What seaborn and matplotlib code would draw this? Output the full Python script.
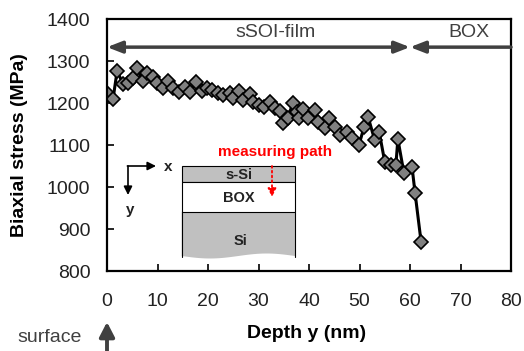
import numpy as np
import pandas as pd
import matplotlib
matplotlib.use("Agg")
import matplotlib.pyplot as plt
import seaborn as sns
from matplotlib.patches import Rectangle, Polygon

depth = [0, 1.2, 2, 3.2, 4.2, 5.1, 5.9, 7.1, 7.9, 9.1, 9.9, 11.1, 12.1, 13.1, 14.3,
         15.4, 16.4, 17.6, 18.8, 19.8, 20.8, 22, 23, 24.4, 25, 26.1, 27, 28.3, 29,
         30.1, 31.1, 32.3, 33.3, 34.3, 34.9, 35.8, 36.8, 37.6, 38, 38.8, 39.8, 41.2,
         41.8, 43.2, 44, 45.1, 46.1, 47.5, 48.5, 49.9, 50.9, 51.7, 53, 53.9, 55,
         56.3, 57.2, 57.6, 58.8, 60.4, 61, 62.2]
stress = [1224, 1210, 1276, 1245, 1248, 1260, 1283, 1252, 1271, 1262, 1248, 1236, 1252,
          1236, 1226, 1238, 1226, 1250, 1228, 1236, 1231, 1224, 1219, 1224, 1212, 1229,
          1207, 1221, 1202, 1195, 1190, 1202, 1188, 1181, 1152, 1164, 1200, 1179, 1164,
          1186, 1164, 1183, 1155, 1140, 1164, 1143, 1124, 1131, 1117, 1100, 1143, 1167,
          1112, 1131, 1060, 1052, 1052, 1114, 1033, 1048, 986, 869]

xticks = [0, 10, 20, 30, 40, 50, 60, 70, 80]
yticks = [800, 900, 1000, 1100, 1200, 1300, 1400]

df = pd.DataFrame({"depth": depth, "stress": stress})

sns.set_style("ticks")
plt.rcParams["font.family"] = ["Liberation Sans", "DejaVu Sans"]
plt.rcParams["text.color"] = "#222222"

W, H = 524, 351
fig = plt.figure(figsize=(W / 100, H / 100), dpi=100)
L, R, T, B = 107, 511, 19, 271
ax = fig.add_axes([L / W, 1 - B / H, (R - L) / W, (B - T) / H])

sns.lineplot(data=df, x="depth", y="stress", ax=ax, color="black", lw=2.2,
             marker="D", markersize=7.5, markerfacecolor="#808080",
             markeredgecolor="black", markeredgewidth=1.2, sort=False)

ax.set_xlim(0, 80)
ax.set_ylim(800, 1400)
ax.set_xticks(xticks)
ax.set_yticks(yticks)
ax.tick_params(axis="both", direction="in", length=5, width=1.2, labelsize=14,
               color="black", labelcolor="#222222")
ax.tick_params(axis="x", pad=16)
ax.tick_params(axis="y", pad=12)
for s in ax.spines.values():
    s.set_visible(True)
    s.set_linewidth(1.6)
    s.set_color("black")

ax.set_xlabel("")
ax.set_ylabel("")
fig.text(20 / W, 1 - 145 / H, "Biaxial stress (MPa)", rotation=90, ha="center",
         va="center", fontsize=14, fontweight="bold", color="black")
fig.text(307 / W, 1 - 333 / H, "Depth y (nm)", ha="center", va="center",
         fontsize=14, fontweight="bold", color="black")
fig.text(50 / W, 1 - 337 / H, "surface", ha="center", va="center", fontsize=14,
         color="#404040")
fig.add_artist(matplotlib.patches.FancyArrowPatch(
    (107 / W, -0.01), (107 / W, 1 - 322 / H), transform=fig.transFigure,
    arrowstyle="-|>,head_length=3.5,head_width=1.8", color="#404040", lw=2.8,
    shrinkA=0, shrinkB=0, mutation_scale=2.5))

# top arrows
ycol = "#404040"
ax.annotate("", xy=(0, 1333), xytext=(60, 1333),
            arrowprops=dict(arrowstyle="<|-|>,head_length=0.9,head_width=0.35",
                            color=ycol, lw=2.5, shrinkA=0, shrinkB=0))
ax.annotate("", xy=(60, 1333), xytext=(80, 1333),
            arrowprops=dict(arrowstyle="-|>,head_length=0.9,head_width=0.35",
                            color=ycol, lw=2.5, shrinkA=0, shrinkB=0))
ax.text(33.3, 1369, "sSOI-film", ha="center", va="center", fontsize=14, color=ycol)
ax.text(71.7, 1369, "BOX", ha="center", va="center", fontsize=14, color=ycol)


def P(px, py):
    return ((px - L) / (R - L), (B - py) / (B - T))


tr = ax.transAxes
x0, x1 = 181.7, 295
(a, b) = P(x0, 181.7); (c, d) = P(x1, 166)
ax.add_patch(Rectangle((a, b), c - a, d - b, transform=tr, facecolor="#c0c0c0",
                       edgecolor="black", lw=0.8, zorder=5))
(a, b) = P(x0, 211.7); (c, d) = P(x1, 181.7)
ax.add_patch(Rectangle((a, b), c - a, d - b, transform=tr, facecolor="white",
                       edgecolor="black", lw=0.8, zorder=5))
xs = np.linspace(x0, x1, 40)
ys = 256 + 2.5 * np.sin((xs - x0) / (x1 - x0) * 2 * np.pi)
pts = [P(x0, 211.7), P(x1, 211.7)] + [P(xx, yy) for xx, yy in zip(xs[::-1], ys[::-1])]
ax.add_patch(Polygon(pts, closed=True, transform=tr, facecolor="#c0c0c0",
                     edgecolor="none", zorder=4))
for xx in (x0, x1):
    p1 = P(xx, 211.7); p2 = P(xx, 257)
    ax.plot([p1[0], p2[0]], [p1[1], p2[1]], transform=tr, color="black", lw=0.8,
            zorder=6)
ax.text(*P(239, 175), "s-Si", transform=tr, ha="center", va="center",
        fontsize=10.5, fontweight="bold", zorder=7)
ax.text(*P(239, 198), "BOX", transform=tr, ha="center", va="center",
        fontsize=10.5, fontweight="bold", zorder=7)
ax.text(*P(240, 241), "Si", transform=tr, ha="center", va="center",
        fontsize=10.5, fontweight="bold", zorder=7)
ax.annotate("", xy=P(272, 197), xytext=P(272, 166), xycoords=tr, textcoords=tr,
            arrowprops=dict(arrowstyle="-|>,head_length=0.5,head_width=0.25",
                            color="red", lw=1.3, ls=":", shrinkA=0, shrinkB=0),
            zorder=8)
ax.text(*P(275, 152), "measuring path", transform=tr, ha="center", va="center",
        fontsize=11, fontweight="bold", color="red", zorder=7)
ax.annotate("", xy=P(156, 166), xytext=P(127.4, 166), xycoords=tr, textcoords=tr,
            arrowprops=dict(arrowstyle="-|>,head_length=0.5,head_width=0.25",
                            color="black", lw=1.2, shrinkA=0, shrinkB=0))
ax.annotate("", xy=P(128, 195), xytext=P(128, 166), xycoords=tr, textcoords=tr,
            arrowprops=dict(arrowstyle="-|>,head_length=0.5,head_width=0.25",
                            color="black", lw=1.2, shrinkA=0, shrinkB=0))
ax.text(*P(168, 167), "x", transform=tr, ha="center", va="center", fontsize=11,
        fontweight="bold")
ax.text(*P(130, 210), "y", transform=tr, ha="center", va="center", fontsize=11,
        fontweight="bold")

fig.savefig("out.png", dpi=100)
